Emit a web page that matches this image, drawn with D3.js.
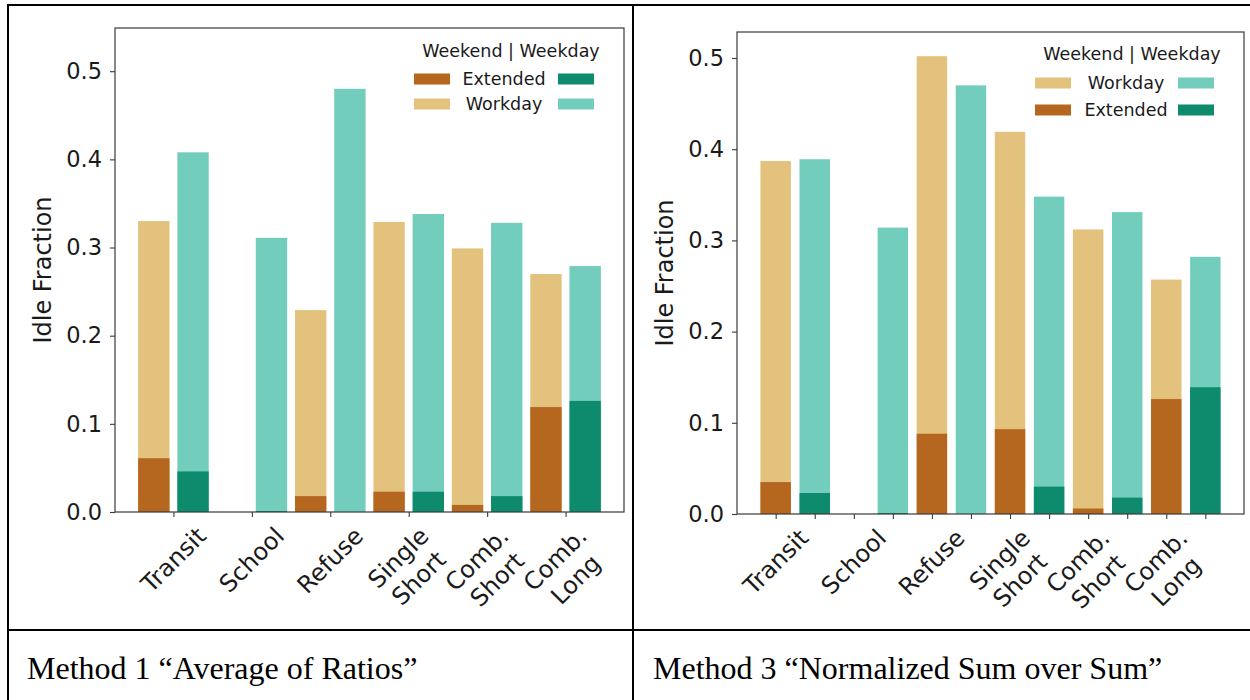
<!DOCTYPE html>
<html>
<head>
<meta charset="utf-8">
<script src="https://cdn.jsdelivr.net/npm/d3@7"></script>
<style>
  html, body { margin: 0; padding: 0; background: #ffffff; }
  svg { display: block; }
</style>
</head>
<body>
<svg id="chart" width="1250" height="700"></svg>
<script>
// ---------------- DATA ----------------
const categories = ["Transit", "School", "Refuse", "Single\nShort", "Comb.\nShort", "Comb.\nLong"];
const yTickValues = [0.0, 0.1, 0.2, 0.3, 0.4, 0.5];

// Method 1 "Average of Ratios"
const m1WeekendWorkday  = [0.330, 0.000, 0.229, 0.329, 0.299, 0.270];
const m1WeekendExtended = [0.061, 0.000, 0.018, 0.023, 0.008, 0.119];
const m1WeekdayWorkday  = [0.408, 0.311, 0.480, 0.338, 0.328, 0.279];
const m1WeekdayExtended = [0.046, 0.001, 0.000, 0.023, 0.018, 0.126];

// Method 3 "Normalized Sum over Sum"
const m3WeekendWorkday  = [0.387, 0.000, 0.502, 0.419, 0.312, 0.257];
const m3WeekendExtended = [0.035, 0.000, 0.088, 0.093, 0.006, 0.126];
const m3WeekdayWorkday  = [0.389, 0.314, 0.470, 0.348, 0.331, 0.282];
const m3WeekdayExtended = [0.023, 0.001, 0.000, 0.030, 0.018, 0.139];

const legendTitle = "Weekend | Weekday";
const yLabel = "Idle Fraction";
const captions = ["Method 1 \u201CAverage of Ratios\u201D", "Method 3 \u201CNormalized Sum over Sum\u201D"];

// ---------------- STYLE ----------------
const COLORS = {
  weekendWorkday: "#e2c27c",
  weekendExtended: "#b5661f",
  weekdayWorkday: "#73cdbd",
  weekdayExtended: "#0e8a6d"
};
const FONT = "'DejaVu Sans', Verdana, sans-serif";
const TICK_FS = 22.5;
const XLABEL_FS = 24;
const LEGEND_FS = 17.5;
const svg = d3.select("#chart");

// Table grid lines
const grid = svg.append("g").attr("stroke", "#000").attr("stroke-width", 2);
grid.append("line").attr("x1", 7).attr("y1", 5).attr("x2", 1250).attr("y2", 5);
grid.append("line").attr("x1", 8).attr("y1", 4).attr("x2", 8).attr("y2", 700);
grid.append("line").attr("x1", 633).attr("y1", 4).attr("x2", 633).attr("y2", 700);
grid.append("line").attr("x1", 7).attr("y1", 630).attr("x2", 1250).attr("y2", 630);

// Captions
svg.append("text").attr("x", 27).attr("y", 679)
  .attr("font-family", "'Liberation Serif', 'Times New Roman', serif").attr("font-size", 32)
  .attr("fill", "#000").text(captions[0]);
svg.append("text").attr("x", 653).attr("y", 679)
  .attr("font-family", "'Liberation Serif', 'Times New Roman', serif").attr("font-size", 32)
  .attr("fill", "#000").text(captions[1]);

function buildRows(weWork, weExt, wdWork, wdExt) {
  return categories.map((c, i) => ({
    cat: c, i,
    weWork: weWork[i], weExt: weExt[i], wdWork: wdWork[i], wdExt: wdExt[i]
  }));
}

const panels = [
  {
    rows: buildRows(m1WeekendWorkday, m1WeekendExtended, m1WeekdayWorkday, m1WeekdayExtended),
    frame: { x0: 115, x1: 624, y0: 28, y1: 512 },
    yMax: 0.549,
    xDomain: [-0.745, 5.745],
    posWeekend: i => i - 0.25, posWeekday: i => i + 0.25, barW: 0.4,
    tickPositions: categories.map((c, i) => i),
    labelPos: i => i,
    yLabelX: 43,
    legend: { title: [511, 51], textX: 504, rows: [79, 104], p1: 414, p2: 558, order: ["Extended", "Workday"] }
  },
  {
    rows: buildRows(m3WeekendWorkday, m3WeekendExtended, m3WeekdayWorkday, m3WeekdayExtended),
    frame: { x0: 737, x1: 1244, y0: 32, y1: 514 },
    yMax: 0.5285,
    xDomain: [-0.99, 11.99],
    posWeekend: i => 2 * i, posWeekday: i => 2 * i + 1, barW: 0.78,
    tickPositions: d3.range(categories.length * 2),
    labelPos: i => 2 * i,
    yLabelX: 665,
    legend: { title: [1132, 54], textX: 1126, rows: [83, 110], p1: 1035, p2: 1178, order: ["Workday", "Extended"] }
  }
];

panels.forEach(p => {
  const f = p.frame;
  const x = d3.scaleLinear().domain(p.xDomain).range([f.x0, f.x1]);
  const y = d3.scaleLinear().domain([0, p.yMax]).range([f.y1, f.y0]);
  const g = svg.append("g");
  const bw = x(p.barW) - x(0);

  // bars: workday (full) first, then extended overlay
  const series = [
    { key: "weWork", pos: p.posWeekend, color: COLORS.weekendWorkday },
    { key: "wdWork", pos: p.posWeekday, color: COLORS.weekdayWorkday },
    { key: "weExt", pos: p.posWeekend, color: COLORS.weekendExtended },
    { key: "wdExt", pos: p.posWeekday, color: COLORS.weekdayExtended }
  ];
  series.forEach(s => {
    g.append("g").selectAll("rect").data(p.rows).join("rect")
      .attr("x", d => x(s.pos(d.i)) - bw / 2)
      .attr("width", bw)
      .attr("y", d => y(d[s.key]))
      .attr("height", d => y(0) - y(d[s.key]))
      .attr("fill", s.color);
  });

  // frame
  g.append("rect").attr("x", f.x0).attr("y", f.y0)
    .attr("width", f.x1 - f.x0).attr("height", f.y1 - f.y0)
    .attr("fill", "none").attr("stroke", "#3a3a3a").attr("stroke-width", 1.2);

  // y axis
  const yAxis = g.append("g").attr("transform", `translate(${f.x0},0)`)
    .call(d3.axisLeft(y).tickValues(yTickValues).tickFormat(d3.format(".1f")).tickSize(5).tickPadding(8));
  yAxis.select(".domain").remove();
  yAxis.selectAll(".tick line").attr("stroke", "#3a3a3a").attr("stroke-width", 1.1);
  yAxis.selectAll(".tick text").attr("font-family", FONT).attr("font-size", TICK_FS).attr("fill", "#1a1a1a");

  // x axis ticks
  const xAxis = g.append("g").attr("transform", `translate(0,${f.y1})`)
    .call(d3.axisBottom(x).tickValues(p.tickPositions).tickFormat("").tickSize(5));
  xAxis.select(".domain").remove();
  xAxis.selectAll(".tick line").attr("stroke", "#3a3a3a").attr("stroke-width", 1.1);

  // x labels rotated 45 deg, bbox centred on tick
  categories.forEach((c, i) => {
    const outer = g.append("g");
    const inner = outer.append("g").attr("transform", "rotate(-45)");
    const t = inner.append("text").attr("font-family", FONT).attr("font-size", XLABEL_FS)
      .attr("fill", "#1a1a1a").attr("text-anchor", "middle");
    c.split("\n").forEach((line, k) => {
      t.append("tspan").attr("x", 0).attr("dy", k === 0 ? 0 : "1.2em").text(line);
    });
    const bb = outer.node().getBoundingClientRect();
    const svgBB = svg.node().getBoundingClientRect();
    const cx = bb.x - svgBB.x + bb.width / 2;
    const top = bb.y - svgBB.y;
    const tx = x(p.labelPos(i));
    const ty = f.y1 + 10;
    outer.attr("transform", `translate(${tx - cx},${ty - top})`);
  });

  // y label
  g.append("text")
    .attr("transform", `translate(${p.yLabelX},${(f.y0 + f.y1) / 2}) rotate(-90)`)
    .attr("text-anchor", "middle").attr("dominant-baseline", "central")
    .attr("font-family", FONT).attr("font-size", 24).attr("fill", "#1a1a1a")
    .text(yLabel);

  // legend
  const L = p.legend;
  const lg = g.append("g").attr("font-family", FONT).attr("fill", "#1a1a1a");
  lg.append("text").attr("x", L.title[0]).attr("y", L.title[1])
    .attr("text-anchor", "middle").attr("dominant-baseline", "central")
    .attr("font-size", LEGEND_FS).text(legendTitle);
  L.order.forEach((name, k) => {
    const yy = L.rows[k];
    const cl = name === "Extended" ? COLORS.weekendExtended : COLORS.weekendWorkday;
    const cr = name === "Extended" ? COLORS.weekdayExtended : COLORS.weekdayWorkday;
    lg.append("rect").attr("x", L.p1).attr("y", yy - 5.5).attr("width", 36).attr("height", 11).attr("fill", cl);
    lg.append("rect").attr("x", L.p2).attr("y", yy - 5.5).attr("width", 36).attr("height", 11).attr("fill", cr);
    lg.append("text").attr("x", L.textX).attr("y", yy)
      .attr("text-anchor", "middle").attr("dominant-baseline", "central")
      .attr("font-size", LEGEND_FS).text(name);
  });
});
</script>
</body>
</html>
